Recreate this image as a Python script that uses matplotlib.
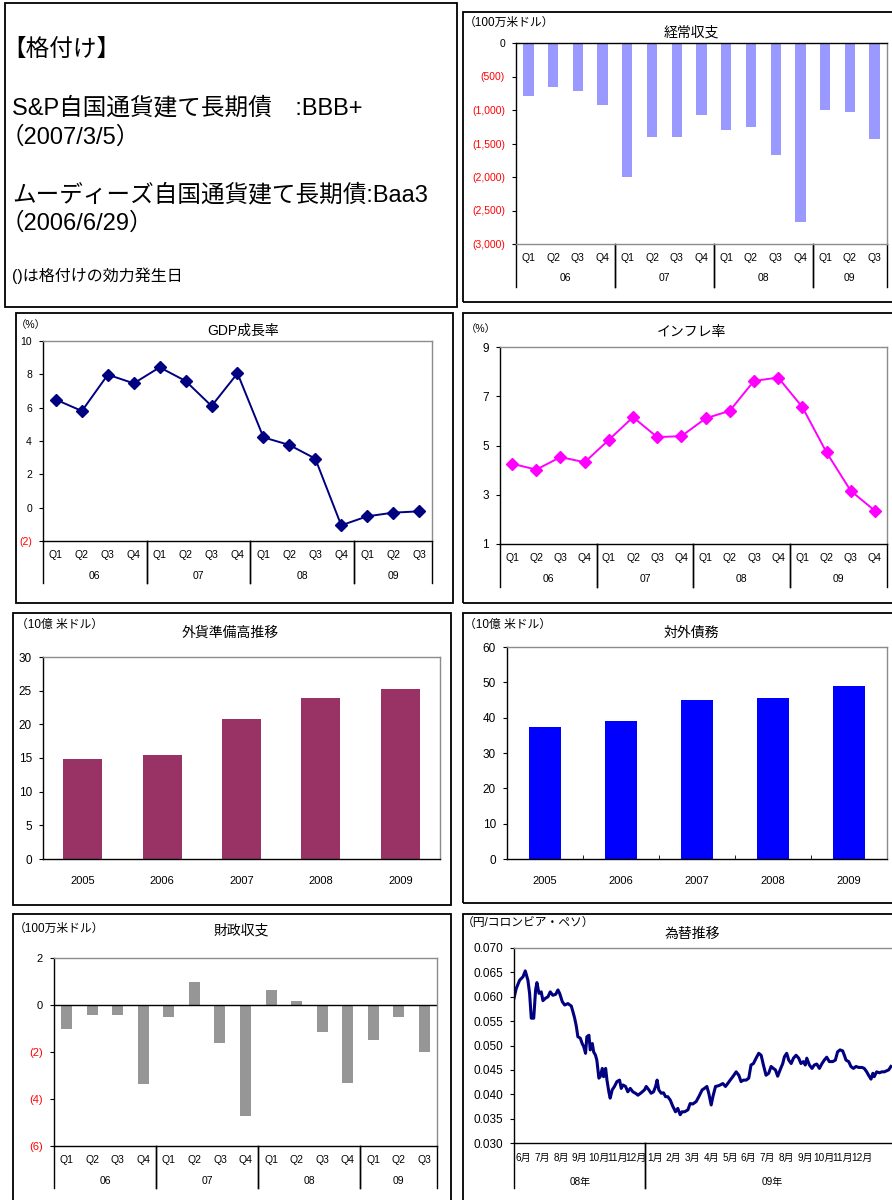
import matplotlib
matplotlib.use("Agg")
import matplotlib.pyplot as plt
from matplotlib import transforms
from matplotlib.patches import Rectangle

plt.rcParams['font.family'] = ['Liberation Sans', 'Noto Sans CJK JP', 'DejaVu Sans']

W, H = 892, 1200

# ===== data =====
quarters = ['Q1', 'Q2', 'Q3', 'Q4']
quarter_years = ['06', '07', '08', '09']

current_account = [-790, -650, -710, -920, -2000, -1400, -1400, -1080,
                   -1305, -1260, -1665, -2665, -1005, -1035, -1440]
gdp_growth = [6.48, 5.8, 7.98, 7.46, 8.42, 7.6, 6.1, 8.06,
              4.22, 3.76, 2.94, -1.06, -0.52, -0.3, -0.22]
inflation = [4.26, 4.02, 4.53, 4.32, 5.23, 6.15, 5.34, 5.38,
             6.1, 6.41, 7.62, 7.76, 6.56, 4.72, 3.16, 2.35]

annual_years = ['2005', '2006', '2007', '2008', '2009']
fx_reserves = [14.8, 15.4, 20.8, 23.9, 25.3]
external_debt = [37.5, 39.0, 44.9, 45.5, 48.9]

fiscal_balance = [-1.02, -0.43, -0.43, -3.38, -0.52, 0.96, -1.62, -4.72,
                  0.62, 0.16, -1.15, -3.32, -1.5, -0.52, -2.0]

# months since 2008-06-01, JPY per COP
fx_month = [0.00, 0.12, 0.30, 0.48, 0.60, 0.74, 0.83, 0.92, 1.05, 1.15,
            1.22, 1.33, 1.45, 1.54, 1.68, 1.81, 1.93, 2.07, 2.22, 2.34,
            2.43, 2.57, 2.70, 2.87, 3.05, 3.14, 3.23, 3.32, 3.40, 3.53,
            3.63, 3.71, 3.81, 3.88, 3.99, 4.06, 4.17, 4.24, 4.34, 4.41,
            4.52, 4.59, 4.70, 4.77, 4.88, 4.95, 5.05, 5.12, 5.23, 5.35,
            5.48, 5.62, 5.71, 5.80, 5.94, 6.06, 6.19, 6.33, 6.51, 6.60,
            6.77, 6.95, 7.04, 7.18, 7.30, 7.43, 7.54, 7.62, 7.71, 7.84,
            7.96, 8.07, 8.19, 8.32, 8.46, 8.60, 8.72, 8.85, 8.95, 9.08,
            9.26, 9.38, 9.52, 9.70, 9.84, 10.02, 10.14, 10.27, 10.37, 10.50,
            10.59, 10.73, 10.85, 10.98, 11.12, 11.26, 11.38, 11.51, 11.65, 11.83,
            11.97, 12.09, 12.22, 12.36, 12.50, 12.62, 12.75, 12.89, 13.03, 13.16,
            13.28, 13.42, 13.56, 13.69, 13.81, 13.92, 14.04, 14.17, 14.31, 14.40,
            14.52, 14.63, 14.76, 14.88, 15.02, 15.16, 15.28, 15.41, 15.51, 15.59,
            15.73, 15.87, 15.99, 16.12, 16.26, 16.40, 16.52, 16.65, 16.79, 16.97,
            17.11, 17.23, 17.36, 17.50, 17.59, 17.68, 17.82, 17.94, 18.07, 18.21,
            18.35, 18.53, 18.65, 18.78, 18.88, 19.01, 19.11, 19.18, 19.31, 19.45,
            19.59, 19.72, 19.84, 19.95, 20.07]
fx_rate = [0.0597, 0.0617, 0.0634, 0.0641, 0.0653, 0.0634, 0.0607, 0.0556, 0.0556, 0.0614,
           0.0629, 0.0607, 0.0610, 0.0592, 0.0597, 0.0600, 0.0610, 0.0603, 0.0605, 0.0614,
           0.0607, 0.0590, 0.0583, 0.0586, 0.0581, 0.0569, 0.0556, 0.0539, 0.0518, 0.0515,
           0.0504, 0.0498, 0.0484, 0.0518, 0.0521, 0.0491, 0.0504, 0.0487, 0.0480, 0.0470,
           0.0433, 0.0436, 0.0453, 0.0436, 0.0453, 0.0429, 0.0405, 0.0392, 0.0409, 0.0416,
           0.0426, 0.0429, 0.0412, 0.0419, 0.0416, 0.0405, 0.0412, 0.0405, 0.0401, 0.0398,
           0.0403, 0.0409, 0.0416, 0.0409, 0.0402, 0.0405, 0.0416, 0.0429, 0.0409, 0.0402,
           0.0403, 0.0395, 0.0395, 0.0388, 0.0375, 0.0364, 0.0371, 0.0358, 0.0364, 0.0364,
           0.0368, 0.0381, 0.0380, 0.0385, 0.0395, 0.0409, 0.0412, 0.0416, 0.0402, 0.0378,
           0.0395, 0.0416, 0.0417, 0.0419, 0.0422, 0.0416, 0.0422, 0.0429, 0.0436, 0.0446,
           0.0439, 0.0426, 0.0429, 0.0429, 0.0433, 0.0460, 0.0463, 0.0474, 0.0484, 0.0480,
           0.0460, 0.0439, 0.0443, 0.0457, 0.0453, 0.0450, 0.0437, 0.0450, 0.0463, 0.0477,
           0.0484, 0.0470, 0.0463, 0.0474, 0.0480, 0.0474, 0.0463, 0.0467, 0.0460, 0.0474,
           0.0460, 0.0453, 0.0460, 0.0462, 0.0453, 0.0463, 0.0470, 0.0476, 0.0467, 0.0467,
           0.0470, 0.0487, 0.0491, 0.0489, 0.0480, 0.0470, 0.0467, 0.0457, 0.0453, 0.0457,
           0.0455, 0.0455, 0.0453, 0.0446, 0.0439, 0.0431, 0.0443, 0.0436, 0.0446, 0.0444,
           0.0446, 0.0446, 0.0448, 0.0450, 0.0457]
fx_months = ['6月', '7月', '8月', '9月', '10月', '11月', '12月',
             '1月', '2月', '3月', '4月', '5月', '6月', '7月', '8月', '9月', '10月', '11月', '12月']
fx_years = ['08年', '09年']
fx_year_spans = [(0, 7), (7, 20.5)]

# ===== helpers =====
fig = plt.figure(figsize=(W / 100, H / 100), dpi=100)


def px_axes(x0, y0, x1, y1):
    return fig.add_axes([x0 / W, 1 - y1 / H, (x1 - x0) / W, (y1 - y0) / H])


def frame(x0, y0, x1, y1):
    fig.patches.append(Rectangle((x0 / W, 1 - y1 / H), (x1 - x0) / W, (y1 - y0) / H,
                                 transform=fig.transFigure, fill=False,
                                 edgecolor='black', lw=1.3))


def ftext(x, y, s, **kw):
    kw.setdefault('va', 'center')
    fig.text(x / W, 1 - y / H, s, **kw)


def paren(v):
    return f'({abs(v):,.0f})' if v < 0 else f'{v:,.0f}'


def style(ax, yticks, labels, fs=8):
    for s in ['top', 'right']:
        ax.spines[s].set_color('#8c8c8c')
    for s in ['left', 'bottom']:
        ax.spines[s].set_color('black')
    for s in ax.spines.values():
        s.set_linewidth(1.0)
    ax.set_yticks(yticks)
    ax.set_yticklabels(labels, fontsize=fs)
    for v, t in zip(yticks, ax.get_yticklabels()):
        if v < 0:
            t.set_color('red')
    ax.tick_params(axis='y', direction='out', length=3, width=0.8, pad=5)


def group_axis(ax, groups, spans, sub_labels, sub_dy, grp_dy, line_dy, fs=7.5, off=0.0):
    # two-level category axis: sub labels, group labels and separator lines
    h = ax.get_position().height * H
    tr = transforms.blended_transform_factory(ax.transData, ax.transAxes)
    ax.set_xticks([])
    for i, lab in enumerate(sub_labels):
        ax.text(i + off, -sub_dy / h, lab, transform=tr, ha='center', va='center', fontsize=fs)
    for g, (a, b) in zip(groups, spans):
        ax.text((a + b) / 2, -grp_dy / h, g, transform=tr, ha='center', va='center', fontsize=fs)
        for x in (a, b):
            ax.plot([x, x], [0, -line_dy / h], transform=tr, color='black', lw=1.0, clip_on=False)


q_labels15 = [quarters[i % 4] for i in range(15)]
q_labels16 = [quarters[i % 4] for i in range(16)]
spans15 = [(-0.5, 3.5), (3.5, 7.5), (7.5, 11.5), (11.5, 14.5)]
spans16 = [(-0.5, 3.5), (3.5, 7.5), (7.5, 11.5), (11.5, 15.5)]

# ===== text box =====
frame(5, 3, 457, 307)
big = 17
ftext(2, 50, '【格付け】', fontsize=big)
ftext(12, 108, 'S&P自国通貨建て長期債　:BBB+', fontsize=big)
ftext(1, 138, '（2007/3/5）', fontsize=big)
ftext(12, 195, 'ムーディーズ自国通貨建て長期債:Baa3', fontsize=big)
ftext(1, 224, '（2006/6/29）', fontsize=big)
ftext(12, 276, '()は格付けの効力発生日', fontsize=11.5)

# ===== 経常収支 =====
frame(463, 12, 900, 302)
ax = px_axes(516, 43, 887, 244)
ax.bar(range(15), current_account, width=0.42, color='#9999ff')
ax.set_xlim(-0.5, 14.5)
ax.set_ylim(-3000, 0)
yt = [0, -500, -1000, -1500, -2000, -2500, -3000]
style(ax, yt, [paren(v) for v in yt], fs=7.5)
ax.spines['top'].set_color('black')
ax.spines['bottom'].set_color('#8c8c8c')
group_axis(ax, quarter_years, spans15, q_labels15, 14, 34, 43)
ftext(691, 32, '経常収支', fontsize=10, ha='center')
ftext(464, 23, '（100万米ドル）', fontsize=8.5)

# ===== GDP成長率 =====
frame(16, 313, 453, 603)
ax = px_axes(43, 341, 432, 541)
ax.plot(range(15), gdp_growth, color='#000080', lw=1.4, marker='D', ms=6)
ax.set_xlim(-0.5, 14.5)
ax.set_ylim(-2, 10)
yt = [10, 8, 6, 4, 2, 0, -2]
style(ax, yt, [paren(v) for v in yt], fs=7.5)
group_axis(ax, quarter_years, spans15, q_labels15, 14, 35, 42)
ftext(243, 331, 'GDP成長率', fontsize=10, ha='center')
ftext(16, 325, '（%）', fontsize=7.5)

# ===== インフレ率 =====
frame(463, 313, 900, 603)
ax = px_axes(500, 347, 887, 544)
ax.plot(range(16), inflation, color='#ff00ff', lw=1.4, marker='D', ms=6)
ax.set_xlim(-0.5, 15.5)
ax.set_ylim(1, 9)
yt = [1, 3, 5, 7, 9]
style(ax, yt, [str(v) for v in yt], fs=8.5)
group_axis(ax, quarter_years, spans16, q_labels16, 14, 35, 43)
ftext(691, 332, 'インフレ率', fontsize=10, ha='center')
ftext(466, 329, '（%）', fontsize=7.5)

# ===== 外貨準備高推移 =====
frame(13, 613, 451, 905)
ax = px_axes(43, 657, 440, 859)
ax.bar(range(5), fx_reserves, width=0.49, color='#993366')
ax.set_xlim(-0.5, 4.5)
ax.set_ylim(0, 30)
yt = [0, 5, 10, 15, 20, 25, 30]
style(ax, yt, [str(v) for v in yt], fs=8.5)
ax.set_xticks(range(5))
ax.set_xticklabels(annual_years, fontsize=8)
ax.tick_params(axis='x', length=0, pad=12)
ftext(230, 633, '外貨準備高推移', fontsize=10, ha='center')
ftext(16, 625, '（10億 米ドル）', fontsize=8.5)

# ===== 対外債務 =====
frame(463, 613, 900, 903)
ax = px_axes(507, 647, 887, 859)
ax.bar(range(5), external_debt, width=0.41, color='#0000ff')
ax.set_xlim(-0.5, 4.5)
ax.set_ylim(0, 60)
yt = [0, 10, 20, 30, 40, 50, 60]
style(ax, yt, [str(v) for v in yt], fs=8.5)
ax.set_xticks(range(5))
ax.set_xticklabels(annual_years, fontsize=8)
ax.set_xticks([0.5, 1.5, 2.5, 3.5], minor=True)
ax.tick_params(axis='x', which='major', length=0, pad=12)
ax.tick_params(axis='x', which='minor', direction='in', length=3)
ftext(691, 633, '対外債務', fontsize=10, ha='center')
ftext(464, 625, '（10億 米ドル）', fontsize=8.5)

# ===== 財政収支 =====
frame(13, 914, 451, 1210)
ax = px_axes(54, 958, 437, 1146)
ax.bar(range(15), fiscal_balance, width=0.43, color='#969696')
ax.axhline(0, color='black', lw=1.0)
ax.set_xlim(-0.5, 14.5)
ax.set_ylim(-6, 2)
yt = [2, 0, -2, -4, -6]
style(ax, yt, [paren(v) for v in yt], fs=8)
group_axis(ax, quarter_years, spans15, q_labels15, 14, 35, 42)
ftext(241, 931, '財政収支', fontsize=10, ha='center')
ftext(14, 929, '（100万米ドル）', fontsize=8.5)

# ===== 為替推移 =====
frame(463, 914, 900, 1210)
ax = px_axes(514, 948, 899, 1143)
ax.plot(fx_month, fx_rate, color='#000080', lw=2.2)
ax.set_xlim(0, 20.5)
ax.set_ylim(0.030, 0.070)
yt = [0.030, 0.035, 0.040, 0.045, 0.050, 0.055, 0.060, 0.065, 0.070]
style(ax, yt, [f'{v:.3f}' for v in yt], fs=8.5)
group_axis(ax, fx_years, fx_year_spans, fx_months, 15, 39, 45, fs=7.2, off=0.5)
ftext(692, 934, '為替推移', fontsize=10, ha='center')
ftext(462, 923, '（円/コロンビア・ペソ）', fontsize=8.5)

fig.savefig('out.png', dpi=100)
